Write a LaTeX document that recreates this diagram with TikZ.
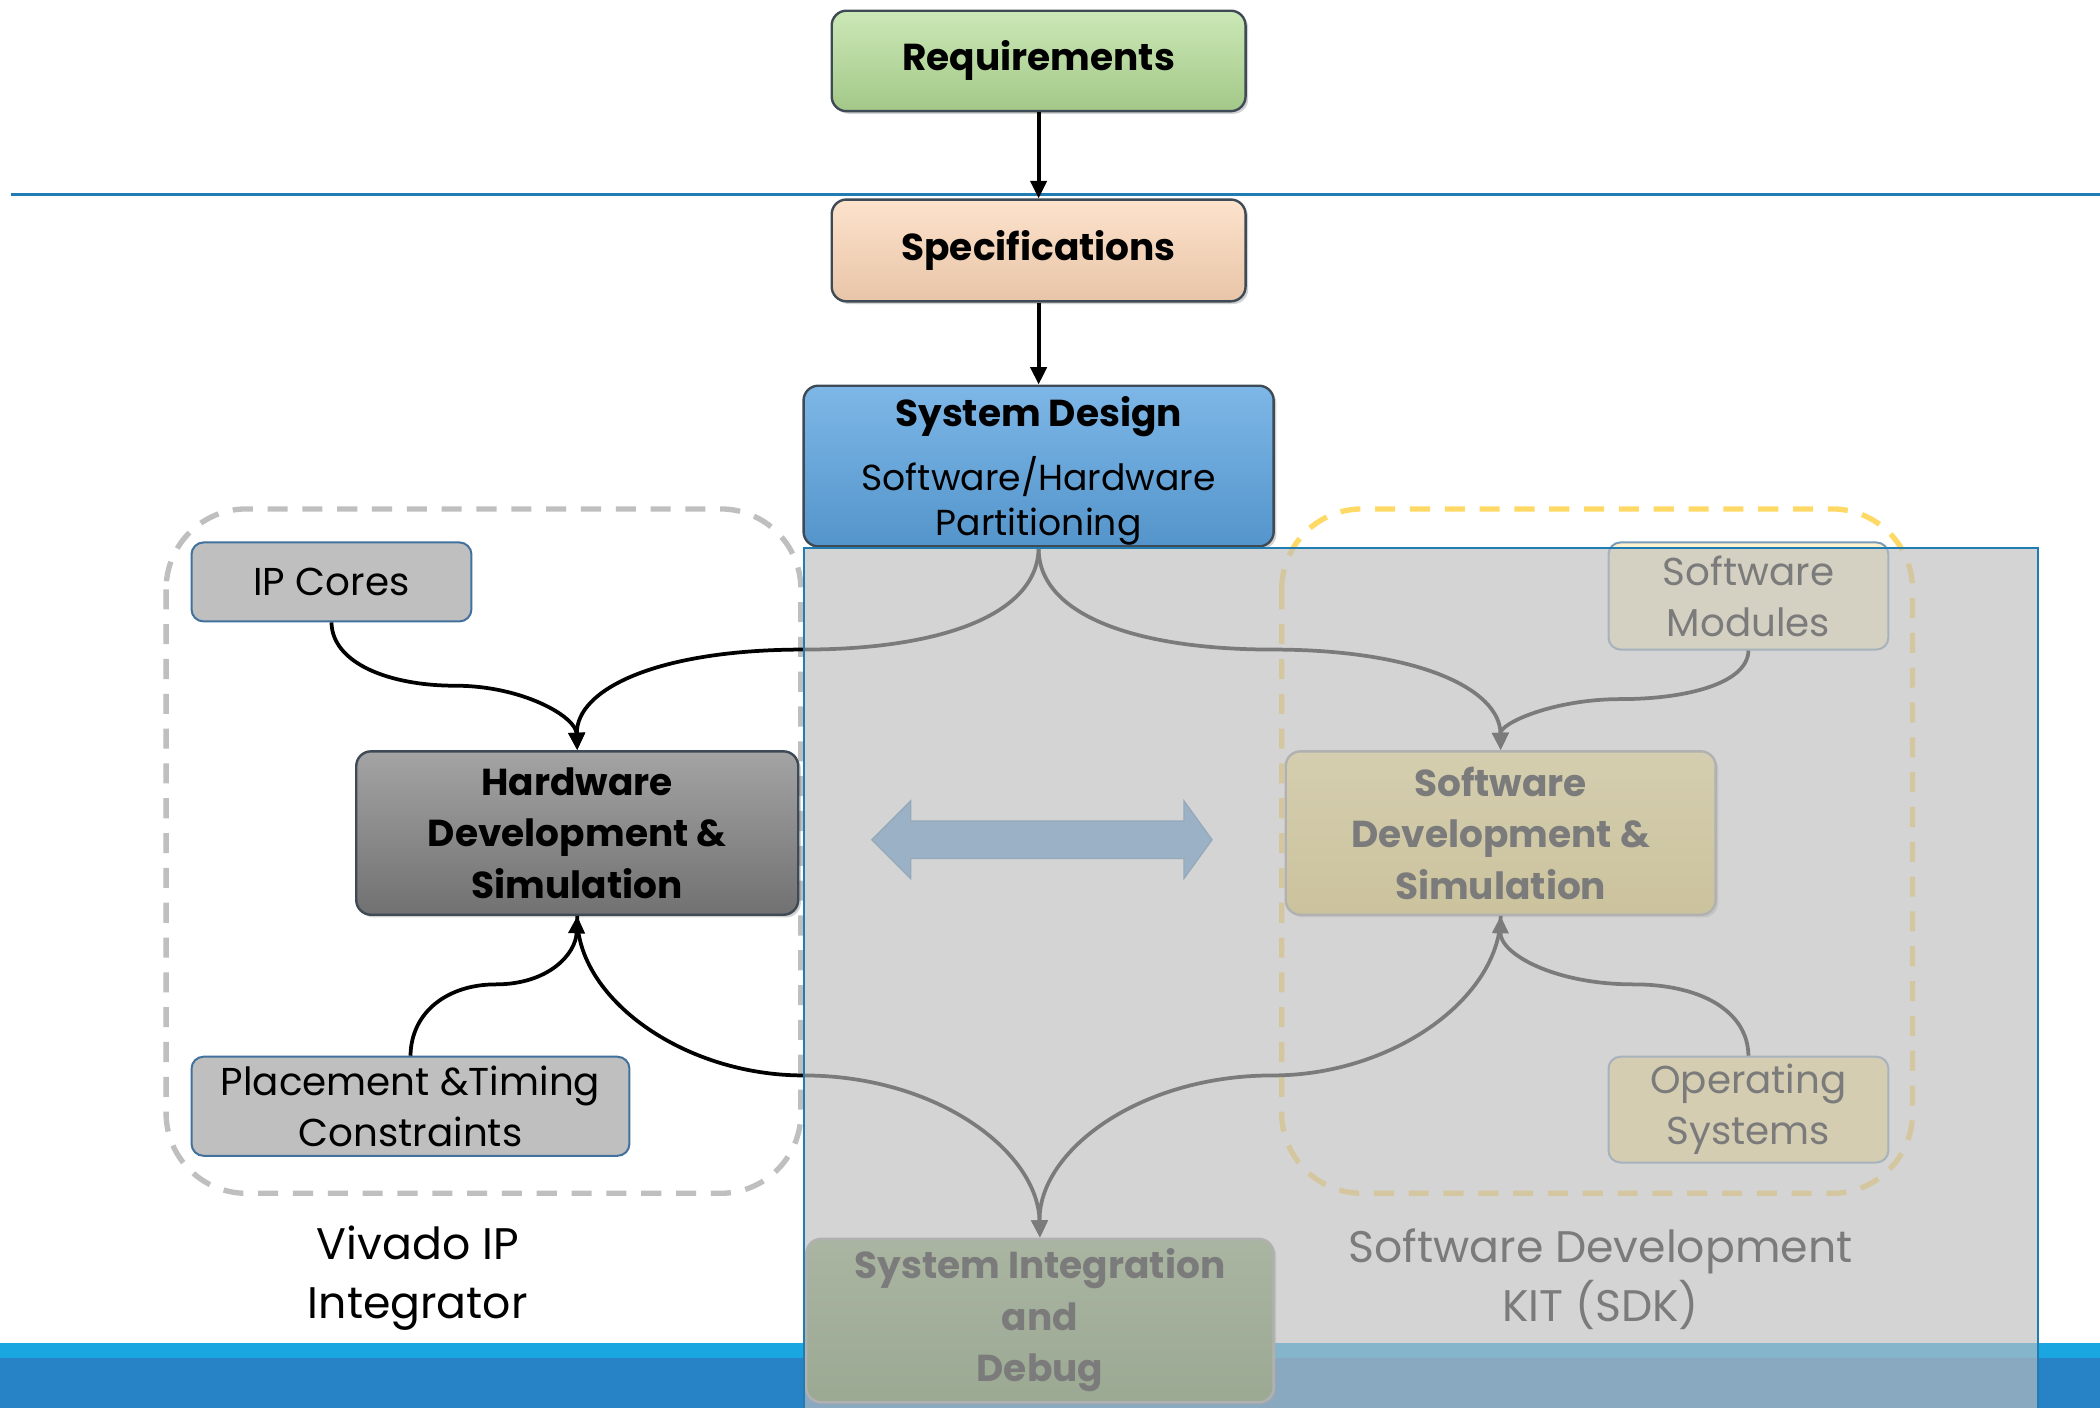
\documentclass[tikz,border=0pt]{standalone}
\usepackage{fontspec}
\setmainfont{Poppins}
\usetikzlibrary{arrows.meta,shadows}
\definecolor{reqfill}{HTML}{B5DE97}
\definecolor{specfill}{HTML}{FCD6B6}
\definecolor{sdfill}{HTML}{5DA5E1}
\definecolor{hwfill}{HTML}{858585}
\definecolor{greyfill}{HTML}{BFBFBF}
\definecolor{blueedge}{HTML}{41719C}
\definecolor{darkedge}{HTML}{3E4A56}
\definecolor{swfill}{HTML}{FFE46A}
\definecolor{smfill}{HTML}{FFF2CC}
\definecolor{osfill}{HTML}{FFE99C}
\definecolor{sifill}{HTML}{66904A}
\definecolor{dblarrow}{HTML}{5B9BD5}
\definecolor{linecol}{HTML}{1F7DB3}
\definecolor{bandlight}{HTML}{1AA7E1}
\definecolor{banddark}{HTML}{2882C6}
\definecolor{ipdash}{HTML}{BFBFBF}
\definecolor{sdkdash}{HTML}{FFD966}
\definecolor{overlaycol}{HTML}{BEBEBE}
\begin{document}
\begin{tikzpicture}[x=1pt,y=-1pt,
  bigbox/.style={draw=darkedge, line width=1.8pt, rounded corners=11pt, inner sep=0pt,
    align=center, font=\bfseries\fontsize{28}{38.5}\selectfont,
    drop shadow={opacity=0.35, shadow xshift=2pt, shadow yshift=-2pt}},
  smallbox/.style={draw=blueedge, line width=1.5pt, rounded corners=9pt, inner sep=0pt,
    align=center, font=\fontsize{29}{38}\selectfont},
  conn/.style={line width=2.8pt, draw=black},
  tip/.style={-{Triangle[length=13pt,width=12pt]}},
  frame/.style={line width=4pt, rounded corners=60pt, dash pattern=on 15pt off 11pt},
  lbl/.style={align=center, font=\fontsize{33}{44}\selectfont, inner sep=0pt}]
\useasboundingbox (0,0) rectangle (1568,1051);
\fill[white] (0,0) rectangle (1568,1051);
% bottom band
\fill[bandlight] (0,1003) rectangle (1568,1014);
\fill[banddark] (0,1014) rectangle (1568,1051);
% horizontal rule
\draw[linecol, line width=2pt] (8,145) -- (1568,145);
% dashed frames
\draw[frame, ipdash] (124,380) rectangle (598,891);
\draw[frame, sdkdash] (957,380) rectangle (1428,891);
% boxes
\node[bigbox, top color=reqfill!70!white, bottom color=reqfill!90!black, minimum width=309pt, minimum height=75pt] (req) at (775.5,45.5) {Requirements};
\node[bigbox, top color=specfill!70!white, bottom color=specfill!92!black, minimum width=309pt, minimum height=76pt] (spec) at (775.5,187) {Specifications};
\node[bigbox, top color=sdfill!80!white, bottom color=sdfill!90!black, minimum width=351pt, minimum height=120pt] (sd) at (775.5,348) {};
\node[font=\bfseries\fontsize{28}{38}\selectfont, inner sep=0pt] (sdt) at (775.5,311) {System Design};
\node[align=center, font=\fontsize{27}{34}\selectfont, inner sep=0pt] (sdsub) at (775.5,374) {Software/Hardware\\Partitioning};
\node[bigbox, top color=hwfill!75!white, bottom color=hwfill!85!black, minimum width=330pt, minimum height=122pt] (hw) at (431,622) {Hardware\\Development \&\\Simulation};
\node[smallbox, fill=greyfill, minimum width=209pt, minimum height=59pt] (ip) at (247.5,434.5) {IP Cores};
\node[smallbox, fill=greyfill, minimum width=327pt, minimum height=74pt] (pt) at (306.5,826) {Placement \&Timing\\Constraints};
\node[bigbox, draw=gray!80, top color=swfill!70!white, bottom color=swfill!90!black, minimum width=321pt, minimum height=122pt] (sw) at (1120.5,622) {Software\\Development \&\\Simulation};
\node[smallbox, draw=blueedge!70, fill=smfill, minimum width=209pt, minimum height=80pt] (sm) at (1305.5,445) {Software\\Modules};
\node[smallbox, draw=blueedge!70, fill=osfill, minimum width=209pt, minimum height=79pt] (os) at (1305.5,828.5) {Operating\\Systems};
\node[bigbox, draw=gray!80, top color=sifill!80!white, bottom color=sifill!90!black, minimum width=349pt, minimum height=122pt] (si) at (776.5,986) {System Integration\\and\\Debug};
% labels
\node[lbl] (viv) at (312,954) {Vivado IP\\Integrator};
\node[lbl] (sdk) at (1195,955) {Software Development\\KIT (SDK)};
% double arrow
\draw[dblarrow!85!black, line width=1pt, fill=dblarrow] (651,627) -- (680,598) -- (680,613) -- (884,613) -- (884,598) -- (905,627) -- (884,656) -- (884,641) -- (680,641) -- (680,656) -- cycle;
% straight connectors
\draw[conn, tip] (req.south) -- (spec.north);
\draw[conn, tip] (spec.south) -- (sd.north);
% curved connectors
\coordinate (lm) at (600,485);
\coordinate (rm) at (950,485);
\coordinate (ipm) at (340,512);
\coordinate (smm) at (1210,522);
\coordinate (ptm) at (370,735);
\coordinate (osm) at (1220,735);
\coordinate (lb) at (600,803);
\coordinate (rb) at (950,803);
\draw[conn, tip] (sd.south) .. controls (775,460) and (700,485) .. (lm) .. controls (490,485) and (430,515) .. (hw.north);
\draw[conn, tip] (sd.south) .. controls (775,460) and (850,485) .. (rm) .. controls (1060,485) and (1120,515) .. (sw.north);
\draw[conn, tip] (ip.south) .. controls (248,495) and (290,512) .. (ipm) .. controls (390,512) and (430,535) .. (hw.north);
\draw[conn, tip] (sm.south) .. controls (1305,510) and (1260,522) .. (smm) .. controls (1160,522) and (1120,540) .. (sw.north);
\draw[conn, tip] (pt.north) .. controls (307,755) and (335,735) .. (ptm) .. controls (410,735) and (430,712) .. (hw.south);
\draw[conn, tip] (os.north) .. controls (1305,755) and (1270,735) .. (osm) .. controls (1160,735) and (1120,712) .. (sw.south);
\draw[conn, tip] (hw.south) .. controls (430,745) and (510,803) .. (lb) .. controls (700,803) and (775,860) .. (si.north);
\draw[conn, tip] (sw.south) .. controls (1120,745) and (1040,803) .. (rb) .. controls (850,803) and (775,860) .. (si.north);
% translucent overlay
\fill[overlaycol, opacity=0.65] (600,409) rectangle (1522,1051);
\draw[linecol, line width=1.5pt] (600,1051) -- (600,409) -- (1522,409) -- (1522,1051);
\end{tikzpicture}
\end{document}
